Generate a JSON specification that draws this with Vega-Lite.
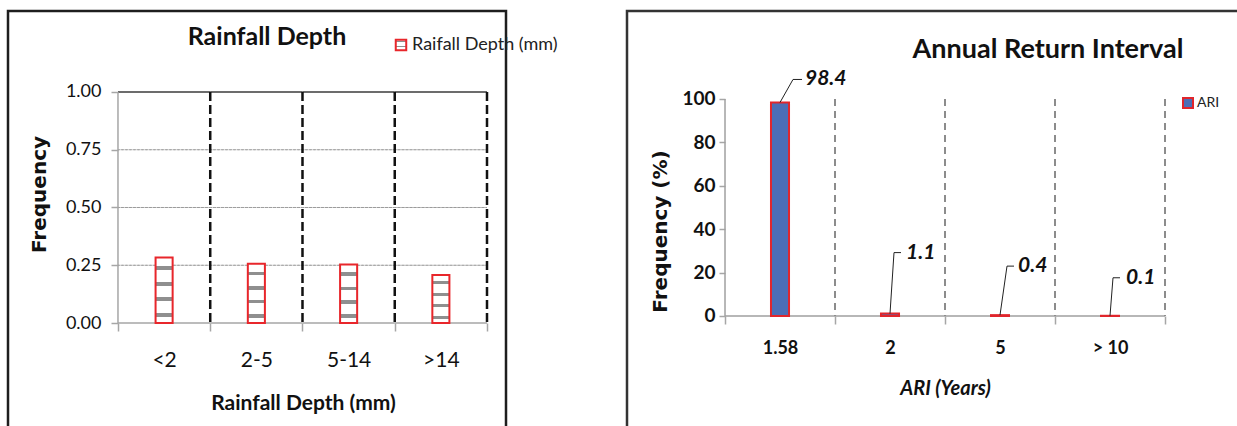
{
  "$schema": "https://vega.github.io/schema/vega-lite/v6.json",
  "background": "white",
  "padding": {"left": 6, "top": 9, "right": 0, "bottom": 0},
  "spacing": 117,
  "config": {
    "font": "Lato",
    "view": {"fill": "white"},
    "axis": {"labelColor": "#111", "titleColor": "#111", "grid": false, "domain": false, "tickColor": "#a6a6a6", "tickWidth": 1.5},
    "legend": {"labelColor": "#222", "padding": 0, "labelLimit": 0}
  },
  "hconcat": [
    {
      "width": 498,
      "height": 420,
      "view": {"stroke": "#1e1e1e", "strokeWidth": 2.5},
      "title": {"text": "Rainfall Depth", "fontSize": 25, "fontWeight": "bold", "color": "#111", "anchor": "middle", "frame": "group", "dx": 10, "offset": -59, "baseline": "alphabetic"},
      "data": {"values": [
        {"depth": "<2", "frequency": 0.284},
        {"depth": "2-5", "frequency": 0.256},
        {"depth": "5-14", "frequency": 0.253},
        {"depth": ">14", "frequency": 0.208}
      ]},
      "layer": [
        {
          "mark": {"type": "bar", "width": {"band": 1}, "fill": "transparent", "stroke": "#9b9b9b", "strokeWidth": 1, "strokeDash": [2, 2]},
          "encoding": {
            "x": {"field": "depth", "type": "nominal", "scale": {"domain": ["<2", "2-5", "5-14", ">14"], "paddingInner": 0, "paddingOuter": 0.699, "align": 0.8527}},
            "y": {"datum": 0.25, "scale": {"domain": [-0.4675, 1.3506], "nice": false, "zero": false}},
            "y2": {"datum": 0.25}
          }
        },
        {
          "mark": {"type": "bar", "width": {"band": 1}, "fill": "transparent", "stroke": "#9b9b9b", "strokeWidth": 1, "strokeDash": [2, 2]},
          "encoding": {
            "x": {"field": "depth", "type": "nominal"},
            "y": {"datum": 0.5},
            "y2": {"datum": 0.5}
          }
        },
        {
          "mark": {"type": "bar", "width": {"band": 1}, "fill": "transparent", "stroke": "#9b9b9b", "strokeWidth": 1, "strokeDash": [2, 2]},
          "encoding": {
            "x": {"field": "depth", "type": "nominal"},
            "y": {"datum": 0.75},
            "y2": {"datum": 0.75}
          }
        },
        {
          "mark": {"type": "bar", "width": {"band": 1}, "fill": "transparent", "stroke": "#a6a6a6", "strokeWidth": 1.5},
          "encoding": {
            "x": {"field": "depth", "type": "nominal"},
            "y": {"datum": 0},
            "y2": {"datum": 0}
          }
        },
        {
          "mark": {"type": "bar", "width": {"band": 1}, "fill": "transparent", "stroke": "#3c3c3c", "strokeWidth": 1.5},
          "encoding": {
            "x": {"field": "depth", "type": "nominal"},
            "y": {"datum": 1},
            "y2": {"datum": 1}
          }
        },
        {
          "transform": [{"filter": "datum.depth == '<2'"}],
          "mark": {"type": "rule", "color": "#a6a6a6", "strokeWidth": 1.5},
          "encoding": {
            "x": {"field": "depth", "type": "nominal", "bandPosition": 0},
            "y": {"datum": 1},
            "y2": {"datum": 0}
          }
        },
        {
          "mark": {"type": "rule", "color": "#111", "strokeWidth": 2.5, "strokeDash": [9, 4]},
          "encoding": {
            "x": {"field": "depth", "type": "nominal", "bandPosition": 1},
            "y": {"datum": 1},
            "y2": {"datum": 0}
          }
        },
        {
          "mark": {
            "type": "bar",
            "width": {"band": 0.185},
            "strokeWidth": 2,
            "fill": {"gradient": "linear", "x1": 0, "y1": 0, "x2": 0, "y2": 1, "stops": [
              {"offset": 0, "color": "#ffffff"}, {"offset": 0.13, "color": "#ffffff"},
              {"offset": 0.13, "color": "#8f8f8f"}, {"offset": 0.19, "color": "#8f8f8f"},
              {"offset": 0.19, "color": "#ffffff"}, {"offset": 0.38, "color": "#ffffff"},
              {"offset": 0.38, "color": "#8f8f8f"}, {"offset": 0.44, "color": "#8f8f8f"},
              {"offset": 0.44, "color": "#ffffff"}, {"offset": 0.61, "color": "#ffffff"},
              {"offset": 0.61, "color": "#8f8f8f"}, {"offset": 0.67, "color": "#8f8f8f"},
              {"offset": 0.67, "color": "#ffffff"}, {"offset": 0.85, "color": "#ffffff"},
              {"offset": 0.85, "color": "#8f8f8f"}, {"offset": 0.91, "color": "#8f8f8f"},
              {"offset": 0.91, "color": "#ffffff"}, {"offset": 1, "color": "#ffffff"}
            ]}
          },
          "encoding": {
            "x": {
              "field": "depth", "type": "nominal",
              "axis": {"title": "Rainfall Depth (mm)", "labelAngle": 0, "labelAlign": "center", "offset": -108, "tickBand": "extent", "tickSize": 8, "labelFontSize": 21, "labelPadding": 29, "titleFontSize": 21, "titleFontWeight": "bold", "titleX": 295, "titleY": 86, "titleBaseline": "alphabetic"}
            },
            "y": {
              "field": "frequency", "type": "quantitative",
              "axis": {"title": "Frequency", "values": [0, 0.25, 0.5, 0.75, 1], "format": ".2f", "offset": -110, "tickSize": 7, "labelPadding": 10, "labelFontSize": 18, "titleFont": "DejaVu Sans", "titleFontSize": 20, "titleFontWeight": "bold", "titleX": -79, "titleY": 183, "titleBaseline": "middle", "titleAlign": "center"}
            },
            "stroke": {
              "datum": "Raifall Depth (mm)", "type": "nominal",
              "scale": {"range": ["#e8262b"]},
              "legend": {"title": null, "orient": "none", "legendX": 384, "legendY": 25, "symbolType": "square", "symbolSize": 110, "symbolStrokeWidth": 2, "symbolFillColor": "#dcdcdc", "labelFontSize": 18, "labelOffset": 2}
            }
          }
        }
      ]
    },
    {
      "width": 612,
      "height": 420,
      "view": {"stroke": "#333333", "strokeWidth": 2.5},
      "title": {"text": "Annual Return Interval", "fontSize": 27, "fontWeight": "bold", "color": "#111", "anchor": "middle", "frame": "group", "dx": 115, "offset": -74, "baseline": "alphabetic"},
      "data": {"values": [
        {"ari": "1.58", "pct": 98.4},
        {"ari": "2", "pct": 1.1},
        {"ari": "5", "pct": 0.4},
        {"ari": "> 10", "pct": 0.1}
      ]},
      "layer": [
        {
          "mark": {"type": "bar", "width": {"band": 1}, "fill": "transparent", "stroke": "#a0a0a0", "strokeWidth": 1.5},
          "encoding": {
            "x": {"field": "ari", "type": "nominal", "scale": {"domain": ["1.58", "2", "5", "> 10"], "paddingInner": 0, "paddingOuter": 0.7818, "align": 0.5698}},
            "y": {"datum": 0, "scale": {"domain": [-53.0, 140.55], "nice": false, "zero": false}},
            "y2": {"datum": 0}
          }
        },
        {
          "transform": [{"filter": "datum.ari == '1.58'"}],
          "mark": {"type": "rule", "color": "#a0a0a0", "strokeWidth": 1.5},
          "encoding": {
            "x": {"field": "ari", "type": "nominal", "bandPosition": 0},
            "y": {"datum": 100},
            "y2": {"datum": 0}
          }
        },
        {
          "mark": {"type": "rule", "color": "#8c8c8c", "strokeWidth": 2, "strokeDash": [7, 5]},
          "encoding": {
            "x": {"field": "ari", "type": "nominal", "bandPosition": 1},
            "y": {"datum": 100},
            "y2": {"datum": 0}
          }
        },
        {
          "mark": {"type": "bar", "width": {"band": 0.164}, "stroke": "#e0262c", "strokeWidth": 2},
          "encoding": {
            "x": {
              "field": "ari", "type": "nominal",
              "axis": {"title": "ARI (Years)", "labelAngle": 0, "labelAlign": "center", "offset": -115, "tickBand": "extent", "tickSize": 8, "labelFontSize": 18, "labelFontWeight": "bold", "labelPadding": 24, "titleFontSize": 20, "titleFontWeight": "bold", "titleFontStyle": "italic", "titleX": 318, "titleY": 78, "titleBaseline": "alphabetic"}
            },
            "y": {
              "field": "pct", "type": "quantitative",
              "axis": {"title": "Frequency (%)", "values": [0, 20, 40, 60, 80, 100], "offset": -98, "tickSize": 6, "labelPadding": 4, "labelFontSize": 19, "labelFontWeight": "bold", "titleFont": "DejaVu Sans", "titleFontSize": 20, "titleFontWeight": "bold", "titleX": -65, "titleY": 220, "titleBaseline": "middle", "titleAlign": "center"}
            },
            "fill": {
              "datum": "ARI", "type": "nominal",
              "scale": {"range": ["#4b6eb6"]},
              "legend": {"title": null, "orient": "none", "legendX": 1173, "legendY": 85, "symbolType": "square", "symbolSize": 100, "symbolStrokeColor": "#e0262c", "symbolStrokeWidth": 2, "labelFontSize": 14, "labelOffset": 2}
            }
          }
        },
        {
          "mark": {
            "type": "rule", "color": "#222", "strokeWidth": 1,
            "x2Offset": {"expr": "datum.ari == '1.58' ? 13 : datum.ari == '2' ? 4 : datum.ari == '5' ? 7 : 3"},
            "y2Offset": {"expr": "datum.ari == '1.58' ? -23 : datum.ari == '2' ? -61 : datum.ari == '5' ? -49 : -38"}
          },
          "encoding": {
            "x": {"field": "ari", "type": "nominal", "bandPosition": 0.5},
            "y": {"field": "pct", "type": "quantitative"},
            "x2": {"field": "ari", "bandPosition": 0.5},
            "y2": {"field": "pct"}
          }
        },
        {
          "mark": {
            "type": "rule", "color": "#222", "strokeWidth": 1,
            "xOffset": {"expr": "datum.ari == '1.58' ? 13 : datum.ari == '2' ? 4 : datum.ari == '5' ? 7 : 3"},
            "x2Offset": {"expr": "datum.ari == '1.58' ? 22 : datum.ari == '2' ? 11 : datum.ari == '5' ? 14 : 10"},
            "yOffset": {"expr": "datum.ari == '1.58' ? -23 : datum.ari == '2' ? -61 : datum.ari == '5' ? -49 : -38"},
            "y2Offset": {"expr": "datum.ari == '1.58' ? -23 : datum.ari == '2' ? -61 : datum.ari == '5' ? -49 : -38"}
          },
          "encoding": {
            "x": {"field": "ari", "type": "nominal", "bandPosition": 0.5},
            "y": {"field": "pct", "type": "quantitative"},
            "x2": {"field": "ari", "bandPosition": 0.5},
            "y2": {"field": "pct"}
          }
        },
        {
          "mark": {
            "type": "text", "align": "left", "baseline": "middle", "fontSize": 21, "fontWeight": "bold", "fontStyle": "italic", "color": "#111",
            "dx": {"expr": "datum.ari == '1.58' ? 25 : datum.ari == '2' ? 16 : datum.ari == '5' ? 18 : 16"},
            "dy": {"expr": "datum.ari == '1.58' ? -23 : datum.ari == '2' ? -61 : datum.ari == '5' ? -49 : -38"}
          },
          "encoding": {
            "x": {"field": "ari", "type": "nominal"},
            "y": {"field": "pct", "type": "quantitative"},
            "text": {"field": "pct", "type": "quantitative", "format": ".1f"}
          }
        }
      ]
    }
  ]
}
